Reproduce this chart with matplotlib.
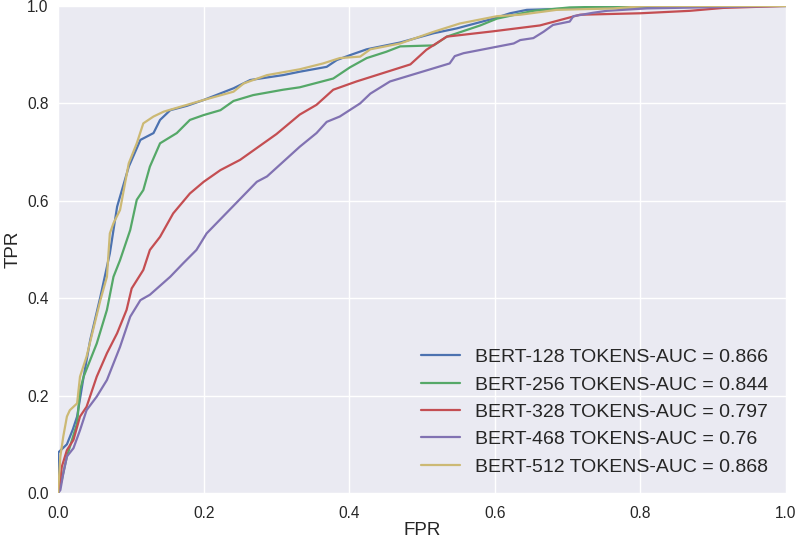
import numpy as np
import matplotlib
matplotlib.use("Agg")
import matplotlib.pyplot as plt

fpr_128 = [0.0, 0.0, 0.005, 0.012, 0.02, 0.026, 0.035, 0.044, 0.058, 0.071, 0.081, 0.097,
           0.113, 0.131, 0.140, 0.154, 0.177, 0.2, 0.241, 0.264, 0.309, 0.332, 0.369, 0.383,
           0.401, 0.424, 0.47, 0.516, 0.548, 0.598, 0.621, 0.644, 0.717, 0.809, 0.9, 1.0]
tpr_128 = [0.0, 0.083, 0.09, 0.10, 0.13, 0.157, 0.239, 0.314, 0.403, 0.492, 0.588, 0.67,
           0.725, 0.739, 0.766, 0.786, 0.795, 0.807, 0.831, 0.848, 0.858, 0.865, 0.875, 0.889,
           0.899, 0.911, 0.925, 0.944, 0.954, 0.974, 0.985, 0.992, 0.995, 0.997, 1.0, 1.0]

fpr_256 = [0.0, 0.005, 0.012, 0.026, 0.03, 0.035, 0.053, 0.067, 0.076, 0.085, 0.099, 0.108,
           0.117, 0.126, 0.14, 0.163, 0.181, 0.2, 0.223, 0.241, 0.268, 0.309, 0.332, 0.378,
           0.401, 0.424, 0.451, 0.47, 0.516, 0.534, 0.58, 0.603, 0.653, 0.703, 0.8, 1.0]
tpr_256 = [0.0, 0.027, 0.075, 0.143, 0.211, 0.239, 0.307, 0.376, 0.444, 0.478, 0.54, 0.602,
           0.622, 0.67, 0.718, 0.739, 0.766, 0.776, 0.786, 0.805, 0.817, 0.828, 0.833, 0.851,
           0.874, 0.893, 0.906, 0.917, 0.919, 0.937, 0.96, 0.974, 0.99, 0.997, 1.0, 1.0]

fpr_328 = [0.0, 0.003, 0.005, 0.012, 0.021, 0.03, 0.039, 0.053, 0.067, 0.081, 0.094, 0.101,
           0.117, 0.126, 0.14, 0.158, 0.181, 0.2, 0.223, 0.25, 0.3, 0.332, 0.355, 0.378,
           0.41, 0.484, 0.506, 0.534, 0.598, 0.662, 0.717, 0.8, 0.868, 0.914, 1.0]
tpr_328 = [0.0, 0.027, 0.054, 0.088, 0.109, 0.157, 0.177, 0.239, 0.287, 0.328, 0.376, 0.42,
           0.458, 0.499, 0.526, 0.574, 0.615, 0.639, 0.663, 0.684, 0.737, 0.777, 0.797, 0.828,
           0.845, 0.88, 0.91, 0.937, 0.948, 0.96, 0.982, 0.985, 0.99, 0.996, 1.0]

fpr_468 = [0.0, 0.003, 0.007, 0.012, 0.021, 0.03, 0.039, 0.053, 0.067, 0.076, 0.085, 0.099,
           0.113, 0.126, 0.154, 0.172, 0.19, 0.204, 0.273, 0.287, 0.332, 0.355, 0.369, 0.387,
           0.415, 0.429, 0.456, 0.538, 0.545, 0.557, 0.626, 0.635, 0.653, 0.667, 0.68, 0.703,
           0.708, 0.735, 0.754, 0.809, 0.992, 1.0]
tpr_468 = [0.0, 0.006, 0.04, 0.075, 0.092, 0.129, 0.17, 0.198, 0.232, 0.266, 0.3, 0.362,
           0.396, 0.407, 0.444, 0.472, 0.499, 0.533, 0.639, 0.65, 0.711, 0.739, 0.762, 0.773,
           0.8, 0.82, 0.845, 0.882, 0.897, 0.903, 0.923, 0.93, 0.934, 0.947, 0.961, 0.968,
           0.979, 0.986, 0.99, 0.995, 1.0, 1.0]

fpr_512 = [0.0, 0.0, 0.003, 0.007, 0.012, 0.016, 0.026, 0.03, 0.039, 0.049, 0.058, 0.067,
           0.071, 0.076, 0.085, 0.097, 0.108, 0.117, 0.131, 0.145, 0.177, 0.2, 0.241, 0.255,
           0.287, 0.332, 0.364, 0.387, 0.415, 0.429, 0.47, 0.516, 0.552, 0.603, 0.635, 0.685,
           0.763, 0.809, 1.0]
tpr_512 = [0.0, 0.006, 0.075, 0.116, 0.157, 0.17, 0.184, 0.239, 0.28, 0.341, 0.396, 0.444,
           0.533, 0.554, 0.581, 0.677, 0.718, 0.759, 0.773, 0.783, 0.797, 0.807, 0.824, 0.841,
           0.858, 0.87, 0.882, 0.893, 0.896, 0.911, 0.923, 0.947, 0.964, 0.979, 0.982, 0.992,
           0.995, 1.0, 1.0]

etiquetas = ["BERT-128 TOKENS-AUC = 0.866", "BERT-256 TOKENS-AUC = 0.844",
             "BERT-328 TOKENS-AUC = 0.797", "BERT-468 TOKENS-AUC = 0.76",
             "BERT-512 TOKENS-AUC = 0.868"]
curvas = [(fpr_128, tpr_128), (fpr_256, tpr_256), (fpr_328, tpr_328),
          (fpr_468, tpr_468), (fpr_512, tpr_512)]

plt.style.use("seaborn-v0_8")
plt.rcParams['font.family'] = ['Liberation Sans', 'DejaVu Sans']

fig = plt.figure(figsize=(7.97, 5.42), dpi=100)
ax = fig.add_axes([0.073, 0.0904, 0.913, 0.8986])

for (x, y), etiqueta in zip(curvas, etiquetas):
    ax.plot(x, y, label=etiqueta, linewidth=1.6)

ax.set_xlim(0, 1)
ax.set_ylim(0, 1)
ax.set_xlabel("FPR", fontsize=13.5, labelpad=1)
ax.set_ylabel("TPR", fontsize=13.5)
ax.tick_params(labelsize=11.2)
ax.tick_params(axis="x", pad=9)
ax.legend(loc="lower right", fontsize=14)

fig.savefig("out.png", dpi=100)
